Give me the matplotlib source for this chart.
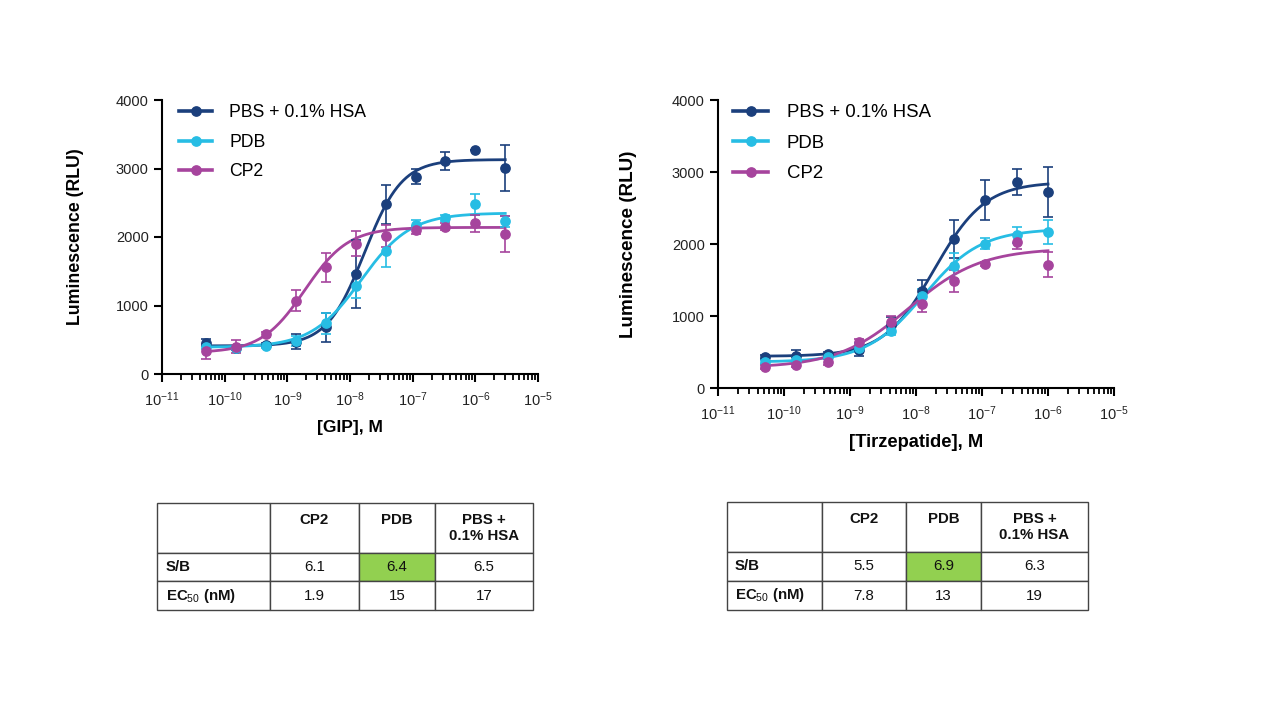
import numpy as np
import matplotlib.pyplot as plt
import matplotlib.ticker as ticker
import matplotlib as mpl

mpl.rcParams['font.family'] = ['Liberation Sans', 'DejaVu Sans']
mpl.rcParams['mathtext.fontset'] = 'custom'
mpl.rcParams['mathtext.rm'] = 'Liberation Sans'
mpl.rcParams['mathtext.it'] = 'Liberation Sans'
mpl.rcParams['mathtext.bf'] = 'Liberation Sans:bold'
mpl.rcParams['axes.unicode_minus'] = False

series = ['PBS + 0.1% HSA', 'PDB', 'CP2']
colors = ['#1b3f7c', '#27bde4', '#a6449d']

# GIP panel, 3-fold dilutions from 3 uM
conc_gip = 3e-6 / 3.0 ** np.arange(10, -1, -1)
gip_mean = {
    'PBS + 0.1% HSA': [455, 380, 420, 470, 680, 1460, 2475, 2880, 3110, 3265, 3010],
    'PDB':            [400, 375, 410, 485, 740, 1290, 1790, 2180, 2280, 2475, 2230],
    'CP2':            [330, 400, 580, 1070, 1560, 1905, 2020, 2100, 2150, 2200, 2045],
}
gip_err = {
    'PBS + 0.1% HSA': [50, 30, 30, 110, 215, 500, 290, 110, 130, 0, 340],
    'PDB':            [40, 30, 30, 70, 150, 180, 230, 70, 40, 150, 80],
    'CP2':            [110, 90, 40, 150, 210, 180, 160, 60, 50, 120, 260],
}
# 4PL fit parameters: bottom, top, EC50 (M), hill
gip_fit = {
    'PBS + 0.1% HSA': [410, 3130, 17e-9, 1.45],
    'PDB':            [390, 2350, 15e-9, 1.1],
    'CP2':            [310, 2140, 1.9e-9, 1.25],
}

# Tirzepatide panel, 3-fold dilutions from 1 uM
conc_tzp = 1e-6 / 3.0 ** np.arange(9, -1, -1)
tzp_mean = {
    'PBS + 0.1% HSA': [435, 445, 475, 530, 880, 1345, 2070, 2615, 2855, 2725],
    'PDB':            [360, 395, 430, 560, 790, 1275, 1700, 2005, 2120, 2165],
    'CP2':            [290, 315, 365, 635, 915, 1160, 1485, 1720, 2025, 1715],
}
tzp_err = {
    'PBS + 0.1% HSA': [30, 80, 30, 90, 110, 160, 260, 275, 180, 345],
    'PDB':            [30, 30, 30, 60, 60, 100, 180, 80, 110, 170],
    'CP2':            [30, 30, 40, 40, 90, 100, 150, 30, 100, 180],
}
tzp_fit = {
    'PBS + 0.1% HSA': [440, 2860, 19e-9, 1.13],
    'PDB':            [360, 2210, 13e-9, 1.0],
    'CP2':            [280, 1940, 7.8e-9, 0.8],
}

table_cols = ['', 'CP2\n ', 'PDB\n ', 'PBS +\n0.1% HSA']
table_rows = ['S/B', 'EC$_{50}$ (nM)']
gip_table = [['6.1', '6.4', '6.5'], ['1.9', '15', '17']]
tzp_table = [['5.5', '6.9', '6.3'], ['7.8', '13', '19']]


def four_pl(x, bottom, top, ec50, hill):
    return bottom + (top - bottom) / (1 + (ec50 / x) ** hill)


def draw_panel(ax, conc, means, errs, fits, xlabel, scale, ypad, legx):
    xs = np.logspace(np.log10(conc[0]), np.log10(conc[-1]), 300)
    handles = []
    for name, c in zip(series, colors):
        ax.errorbar(conc, means[name], yerr=errs[name], fmt='o', color=c,
                    ms=6.7, capsize=3.6, elinewidth=1.2, capthick=1.2, zorder=3)
        ax.plot(xs, four_pl(xs, *fits[name]), color=c, lw=2, zorder=2)
        h, = ax.plot([], [], color=c, lw=2.6, marker='o', ms=6.7)
        handles.append(h)
    ax.set_xscale('log')
    ax.set_xlim(1e-11, 1e-5)
    ax.set_ylim(0, 4000)
    ax.yaxis.set_major_locator(ticker.MultipleLocator(1000))
    ax.xaxis.set_major_locator(ticker.LogLocator(base=10, numticks=10))
    ax.xaxis.set_minor_locator(ticker.LogLocator(base=10, subs=np.arange(2, 10), numticks=10))
    ax.xaxis.set_minor_formatter(ticker.NullFormatter())
    for s in ['top', 'right']:
        ax.spines[s].set_visible(False)
    for s in ['left', 'bottom']:
        ax.spines[s].set_linewidth(1.5)
    ax.tick_params(which='major', length=6, width=1.5, labelsize=10.5, colors='black',
                   labelcolor='#222222')
    ax.tick_params(which='minor', length=4.5, width=1.3)
    ax.tick_params(axis='x', pad=6)
    ax.set_xlabel(xlabel, fontsize=12.5 * scale, fontweight='bold', labelpad=8)
    ax.set_ylabel('Luminescence (RLU)', fontsize=12.8 * scale, fontweight='bold',
                  labelpad=ypad)
    ax.legend(handles, series, loc='upper left', bbox_to_anchor=(legx, 1.011),
              borderaxespad=0, frameon=False, fontsize=12.7 * scale,
              handlelength=1.85, handletextpad=1.0, labelspacing=0.72)


def draw_table(ax, cells, widths):
    rows = [table_cols] + [[r] + v for r, v in zip(table_rows, cells)]
    tb = ax.table(cellText=rows, colWidths=widths, bbox=[0, 0, 1, 1], cellLoc='center')
    tb.auto_set_font_size(False)
    for (r, c), cell in tb.get_celld().items():
        cell.set_edgecolor('#444444')
        cell.set_linewidth(1.0)
        cell.set_height(50 if r == 0 else 29)
        txt = cell.get_text()
        txt.set_fontsize(10.8)
        txt.set_color('#111111')
        txt.set_linespacing(1.15)
        if r == 0 or c == 0:
            txt.set_fontweight('bold')
        if c == 0:
            cell.set_text_props(ha='left')
            cell.PAD = 0.08
        if r == 1 and c == 2:
            cell.set_facecolor('#92d050')
    ax.axis('off')


fig = plt.figure(figsize=(12.8, 7.2), dpi=100)

ax1 = fig.add_axes([162 / 1280, 1 - 374 / 720, 376 / 1280, 274 / 720])
draw_panel(ax1, conc_gip, gip_mean, gip_err, gip_fit, '[GIP], M', 1.0, 23, 0.027)

ax2 = fig.add_axes([718 / 1280, 1 - 388 / 720, 396 / 1280, 288 / 720])
draw_panel(ax2, conc_tzp, tzp_mean, tzp_err, tzp_fit, '[Tirzepatide], M', 1.06, 25, 0.02)

t1 = fig.add_axes([157 / 1280, 1 - 610 / 720, 376 / 1280, 107 / 720])
draw_table(t1, gip_table, [113, 89, 76, 98])

t2 = fig.add_axes([727 / 1280, 1 - 610 / 720, 361 / 1280, 108 / 720])
draw_table(t2, tzp_table, [95, 84, 75, 107])

fig.savefig('out.png', dpi=100)
